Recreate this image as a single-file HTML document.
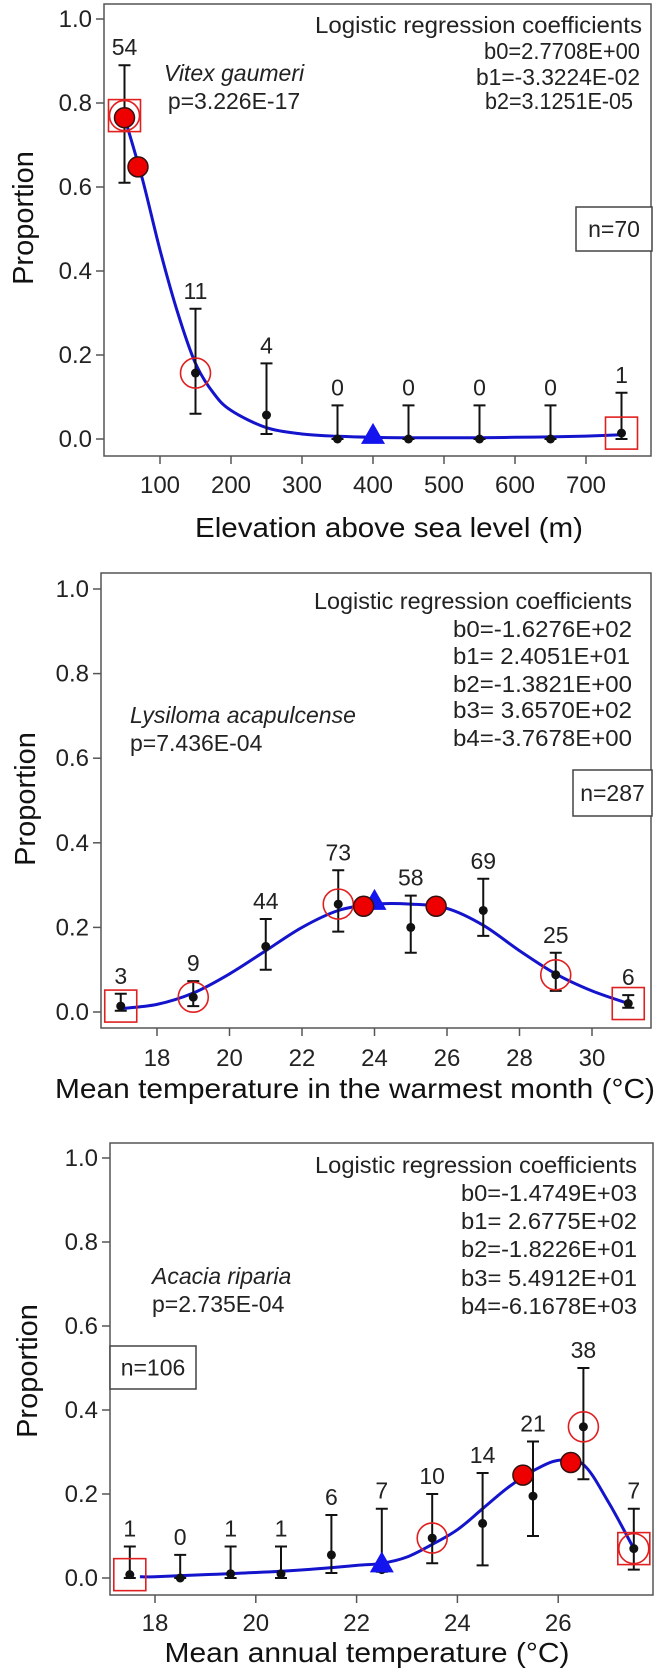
<!DOCTYPE html>
<html><head><meta charset="utf-8">
<style>
html,body{margin:0;padding:0;background:#fff;}
svg{display:block;font-family:"Liberation Sans",Arial,sans-serif;}
</style></head>
<body>
<svg id="fig" width="661" height="1673" viewBox="0 0 661 1673" xmlns="http://www.w3.org/2000/svg"></svg>
<script>
// ---------- Panel 1: Vitex gaumeri ----------
const p1X = [50, 150, 250, 350, 450, 550, 650, 750];
const p1P = [0.77, 0.157, 0.057, 0.0, 0.0, 0.0, 0.0, 0.014];
const p1Lo = [0.61, 0.06, 0.012, 0.0, 0.0, 0.0, 0.0, 0.0];
const p1Hi = [0.89, 0.31, 0.18, 0.08, 0.08, 0.08, 0.08, 0.11];
const p1N = ["54", "11", "4", "0", "0", "0", "0", "1"];
const p1CurveX = [50, 75, 100, 125, 150, 175, 200, 250, 300, 350, 400, 450, 500, 550, 600, 650, 700, 750];
const p1CurveY = [0.766, 0.62, 0.45, 0.30, 0.18, 0.11, 0.068, 0.027, 0.012, 0.0065, 0.004, 0.003, 0.003, 0.003, 0.004, 0.005, 0.007, 0.010];
const p1Filled = [[50, 0.765], [69, 0.648]];
const p1Open = [[50, 0.77], [150, 0.157]];
const p1Square = [[50, 0.77], [750, 0.014]];
const p1Tri = [[400, 0.005]];
const p1XTicks = [100, 200, 300, 400, 500, 600, 700];

// ---------- Panel 2: Lysiloma acapulcense ----------
const p2X = [17, 19, 21, 23, 25, 27, 29, 31];
const p2P = [0.014, 0.035, 0.155, 0.255, 0.20, 0.24, 0.088, 0.02];
const p2Lo = [0.003, 0.014, 0.10, 0.19, 0.14, 0.18, 0.05, 0.01];
const p2Hi = [0.043, 0.073, 0.22, 0.335, 0.275, 0.315, 0.14, 0.04];
const p2N = ["3", "9", "44", "73", "58", "69", "25", "6"];
const p2CurveX = [17, 18, 19, 20, 21, 22, 23, 24, 25, 26, 27, 28, 29, 30, 31];
const p2CurveY = [0.008, 0.018, 0.045, 0.09, 0.145, 0.20, 0.24, 0.255, 0.255, 0.245, 0.205, 0.145, 0.09, 0.05, 0.02];
const p2Filled = [[23.7, 0.25], [25.7, 0.25]];
const p2Open = [[19, 0.035], [23, 0.255], [29, 0.088]];
const p2Square = [[17, 0.014], [31, 0.02]];
const p2Tri = [[24, 0.258]];
const p2XTicks = [18, 20, 22, 24, 26, 28, 30];

// ---------- Panel 3: Acacia riparia ----------
const p3X = [17.5, 18.5, 19.5, 20.5, 21.5, 22.5, 23.5, 24.5, 25.5, 26.5, 27.5];
const p3P = [0.008, 0.0, 0.01, 0.01, 0.055, 0.02, 0.095, 0.13, 0.195, 0.36, 0.07];
const p3Lo = [0.0, 0.0, 0.0, 0.0, 0.012, 0.015, 0.035, 0.03, 0.10, 0.235, 0.02];
const p3Hi = [0.075, 0.055, 0.075, 0.075, 0.15, 0.165, 0.20, 0.25, 0.325, 0.50, 0.165];
const p3N = ["1", "0", "1", "1", "6", "7", "10", "14", "21", "38", "7"];
const p3CurveX = [17.7, 18, 19, 20, 21, 22, 22.5, 23, 23.5, 24, 24.5, 25, 25.5, 26, 26.5, 27, 27.5];
const p3CurveY = [0.003, 0.003, 0.008, 0.013, 0.02, 0.03, 0.035, 0.05, 0.08, 0.115, 0.165, 0.215, 0.255, 0.28, 0.27, 0.18, 0.07];
const p3Filled = [[25.3, 0.245], [26.25, 0.275]];
const p3Open = [[23.5, 0.095], [26.5, 0.36], [27.5, 0.07]];
const p3Square = [[17.5, 0.008], [27.5, 0.07]];
const p3Tri = [[22.5, 0.03]];
const p3XTicks = [18, 20, 22, 24, 26];

const yTicks = [0.0, 0.2, 0.4, 0.6, 0.8, 1.0];

const NS = "http://www.w3.org/2000/svg";
const svg = document.getElementById("fig");
function mk(tag, attrs, parent) {
  const e = document.createElementNS(NS, tag);
  for (const k in attrs) e.setAttribute(k, attrs[k]);
  (parent || svg).appendChild(e);
  return e;
}
function txt(str, attrs, parent) {
  const t = mk("text", attrs, parent);
  t.textContent = str;
  return t;
}
function smoothPath(pts) {
  let d = "M" + pts[0][0].toFixed(1) + "," + pts[0][1].toFixed(1);
  for (let i = 0; i < pts.length - 1; i++) {
    const p0 = pts[Math.max(0, i - 1)], p1 = pts[i], p2 = pts[i + 1], p3 = pts[Math.min(pts.length - 1, i + 2)];
    const c1x = p1[0] + (p2[0] - p0[0]) / 6, c1y = p1[1] + (p2[1] - p0[1]) / 6;
    const c2x = p2[0] - (p3[0] - p1[0]) / 6, c2y = p2[1] - (p3[1] - p1[1]) / 6;
    d += `C${c1x.toFixed(1)},${c1y.toFixed(1)} ${c2x.toFixed(1)},${c2y.toFixed(1)} ${p2[0].toFixed(1)},${p2[1].toFixed(1)}`;
  }
  return d;
}

function panel(cfg) {
  const g = mk("g", {});
  
  
  const sx = v => cfg.px0 + (v - cfg.x0) * cfg.kx;
  const sy = v => cfg.py0 - v * cfg.ky;

  const fr = mk("rect", {x: cfg.left, y: cfg.top, width: cfg.right - cfg.left, height: cfg.bottom - cfg.top, fill: "none", stroke: "#555", "stroke-width": 1.5}, g);
  
  

  yTicks.forEach(v => {
    const y = sy(v);
    const l = mk("line", {x1: cfg.left - 8, x2: cfg.left, y1: y, y2: y, stroke: "#555", "stroke-width": 1.5}, g);
    
    
    const t = txt(v.toFixed(1), {x: cfg.left - 12, y: y + 8, "font-size": 24, "text-anchor": "end", fill: "#222"}, g);
    
    
  });
  cfg.xticks.forEach(v => {
    const x = sx(v);
    const l = mk("line", {x1: x, x2: x, y1: cfg.bottom, y2: cfg.bottom + 8, stroke: "#555", "stroke-width": 1.5}, g);
    
    
    const t = txt(String(v), {x: x, y: cfg.xLabY + 8, "font-size": 24, "text-anchor": "middle", fill: "#222"}, g);
    
    
  });
  const xt = txt(cfg.xTitle, {x: cfg.xTitleX, y: cfg.xTitleY + 10, "font-size": 28, "text-anchor": "middle", fill: "#111", textLength: cfg.xTitleW, lengthAdjust: "spacingAndGlyphs"}, g);
  
  
  const yt = txt("Proportion", {x: 0, y: 0, "font-size": 29, "text-anchor": "middle", fill: "#111", transform: `translate(${cfg.yTitleX + 10},${cfg.yTitleY}) rotate(-90)`}, g);
  
  

  const c0 = txt("Logistic regression coefficients", {x: cfg.coefRight, y: cfg.coefY[0] + 8, "font-size": 23, "text-anchor": "end", fill: "#222", textLength: cfg.coefW, lengthAdjust: "spacingAndGlyphs"}, g);
  
  
  cfg.coefs.forEach((s, i) => {
    const t = txt(s, {x: cfg.coefEnd[i], y: cfg.coefY[i + 1] + 8, "font-size": 23, "text-anchor": "end", fill: "#222", textLength: cfg.coefLen[i], lengthAdjust: "spacingAndGlyphs"}, g);
    
    
  });
  const sp = txt(cfg.species, {x: cfg.spX, y: cfg.spY + 8, "font-size": 23, "font-style": "italic", "text-anchor": cfg.spAnchor, fill: "#222"}, g);
  
  
  const pv = txt(cfg.pval, {x: cfg.pX, y: cfg.pY + 8, "font-size": 23, "text-anchor": cfg.spAnchor, fill: "#222"}, g);
  
  
  const nb = mk("rect", {x: cfg.nBox[0], y: cfg.nBox[1], width: cfg.nBox[2], height: cfg.nBox[3], fill: "#fff", stroke: "#444", "stroke-width": 1.5}, g);
  
  
  const nt = txt(cfg.nText, {x: cfg.nBox[0] + cfg.nBox[2] / 2, y: cfg.nBox[1] + cfg.nBox[3] / 2 + 8, "font-size": 23, "text-anchor": "middle", fill: "#222"}, g);
  
  

  const pts = cfg.cx.map((v, i) => [sx(v), sy(cfg.cy[i])]);
  const cv = mk("path", {d: smoothPath(pts), fill: "none", stroke: "#1414cc", "stroke-width": 3, "stroke-linejoin": "round"}, g);
  
  

  cfg.x.forEach((v, i) => {
    const x = sx(v), yl = sy(cfg.lo[i]), yh = sy(cfg.hi[i]), yp = sy(cfg.p[i]);
    const eb = mk("path", {d: `M${x},${yl}L${x},${yh}M${x - 6},${yh}L${x + 6},${yh}M${x - 6},${yl}L${x + 6},${yl}`, stroke: "#111", "stroke-width": 2, fill: "none"}, g);
    
    
    const pt = mk("circle", {cx: x, cy: yp, r: 4.5, fill: "#111"}, g);
    
    
    const nl = txt(cfg.n[i], {x: x, y: yh - 10, "font-size": 23, "text-anchor": "middle", fill: "#222"}, g);
    
    
  });
  cfg.open.forEach(([a, b]) => {
    const c = mk("circle", {cx: sx(a), cy: sy(b), r: 15, fill: "none", stroke: "#e02020", "stroke-width": 1.6}, g);
    
    
  });
  cfg.square.forEach(([a, b]) => {
    const s = mk("rect", {x: sx(a) - 16, y: sy(b) - 16, width: 32, height: 32, fill: "none", stroke: "#e02020", "stroke-width": 1.6}, g);
    
    
  });
  cfg.tri.forEach(([a, b]) => {
    const x = sx(a), y = sy(b);
    const t = mk("polygon", {points: `${x - 12},${y + 7} ${x + 12},${y + 7} ${x},${y - 14}`, fill: "#1414ee"}, g);
    
    
  });
  cfg.filled.forEach(([a, b]) => {
    const c = mk("circle", {cx: sx(a), cy: sy(b), r: 10, fill: "#ee0000", stroke: "#331111", "stroke-width": 1.5}, g);
    
    
  });
}

panel({name: "panel-elevation", left: 104, right: 651, top: 4, bottom: 456,
  x0: 100, px0: 160, kx: 0.71, py0: 439, ky: 420,
  xticks: p1XTicks, xLabY: 485, xTitle: "Elevation above sea level (m)", xTitleX: 389, xTitleW: 388, xTitleY: 527,
  yTitleX: 23, yTitleY: 218,
  coefRight: 642, coefW: 327, coefY: [25, 51, 77, 101],
  coefs: ["b0=2.7708E+00", "b1=-3.3224E-02", "b2=3.1251E-05"], coefEnd: [640, 640, 633], coefLen: [156, 164, 148],
  species: "Vitex gaumeri", spX: 234, spY: 73, pval: "p=3.226E-17", pX: 234, pY: 101, spAnchor: "middle",
  nBox: [576, 207, 76, 44], nText: "n=70",
  x: p1X, p: p1P, lo: p1Lo, hi: p1Hi, n: p1N, cx: p1CurveX, cy: p1CurveY,
  filled: p1Filled, open: p1Open, square: p1Square, tri: p1Tri});

panel({name: "panel-warmest-month", left: 101, right: 651, top: 573, bottom: 1028,
  x0: 18, px0: 157, kx: 36.25, py0: 1012, ky: 423,
  xticks: p2XTicks, xLabY: 1058, xTitle: "Mean temperature in the warmest month (°C)", xTitleX: 355, xTitleW: 600, xTitleY: 1088,
  yTitleX: 25, yTitleY: 799,
  coefRight: 632, coefW: 318, coefY: [601, 629, 656, 684, 710, 738],
  coefs: ["b0=-1.6276E+02", "b1= 2.4051E+01", "b2=-1.3821E+00", "b3= 3.6570E+02", "b4=-3.7678E+00"], coefEnd: [632, 630, 632, 632, 632], coefLen: [179, 177, 179, 179, 179],
  species: "Lysiloma acapulcense", spX: 130, spY: 715, pval: "p=7.436E-04", pX: 130, pY: 743, spAnchor: "start",
  nBox: [573, 770, 79, 46], nText: "n=287",
  x: p2X, p: p2P, lo: p2Lo, hi: p2Hi, n: p2N, cx: p2CurveX, cy: p2CurveY,
  filled: p2Filled, open: p2Open, square: p2Square, tri: p2Tri});

panel({name: "panel-annual-temperature", left: 110, right: 653, top: 1143, bottom: 1595,
  x0: 18, px0: 155, kx: 50.4, py0: 1578, ky: 420,
  xticks: p3XTicks, xLabY: 1623, xTitle: "Mean annual temperature (°C)", xTitleX: 367, xTitleW: 405, xTitleY: 1652,
  yTitleX: 27, yTitleY: 1371,
  coefRight: 637, coefW: 322, coefY: [1165, 1193, 1221, 1249, 1278, 1306],
  coefs: ["b0=-1.4749E+03", "b1= 2.6775E+02", "b2=-1.8226E+01", "b3= 5.4912E+01", "b4=-6.1678E+03"], coefEnd: [637, 637, 637, 637, 637], coefLen: [176, 176, 176, 176, 176],
  species: "Acacia riparia", spX: 152, spY: 1276, pval: "p=2.735E-04", pX: 152, pY: 1304, spAnchor: "start",
  nBox: [110, 1346, 86, 43], nText: "n=106",
  x: p3X, p: p3P, lo: p3Lo, hi: p3Hi, n: p3N, cx: p3CurveX, cy: p3CurveY,
  filled: p3Filled, open: p3Open, square: p3Square, tri: p3Tri});
</script>
</body></html>
